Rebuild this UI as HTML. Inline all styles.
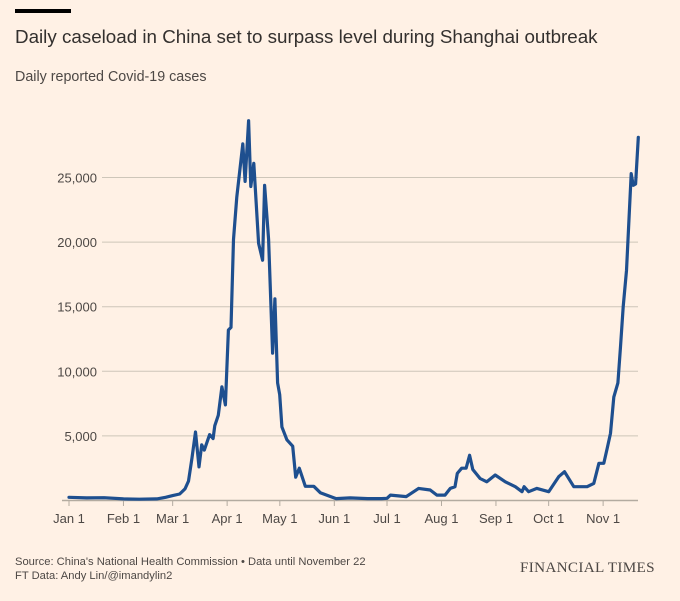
<!DOCTYPE html>
<html><head><meta charset="utf-8"><style>
html,body{margin:0;padding:0;background:#fff1e5;}
body{width:680px;height:601px;position:relative;overflow:hidden;font-family:"Liberation Sans",sans-serif;color:#33302e;}
.t{position:absolute;white-space:nowrap;}
</style></head><body>
<div style="position:absolute;left:15px;top:9px;width:56px;height:4px;background:#000;"></div>
<div class="t" style="left:15px;top:26px;font-size:18.8px;color:#33302e;">Daily caseload in China set to surpass level during Shanghai outbreak</div>
<div class="t" style="left:15px;top:69px;font-size:14.3px;color:#4d4845;">Daily reported Covid-19 cases</div>
<svg id="chart" width="680" height="601" style="position:absolute;left:0;top:0;"></svg>
<div class="t" style="left:15px;top:556px;font-size:11.2px;color:#4d4845;">Source: China's National Health Commission • Data until November 22</div>
<div class="t" style="left:15px;top:570px;font-size:11.2px;color:#4d4845;">FT Data: Andy Lin/@imandylin2</div>
<div class="t" style="left:520px;top:559px;font-size:15.2px;font-family:'Liberation Serif',serif;letter-spacing:0.3px;color:#4d4845;">FINANCIAL TIMES</div>
<script>
const yTicks=[5000,10000,15000,20000,25000];
const yTickLabels=["5,000","10,000","15,000","20,000","25,000"];
const xTickDays=[0,31,59,90,120,151,181,212,243,273,304];
const xTickLabels=["Jan 1","Feb 1","Mar 1","Apr 1","May 1","Jun 1","Jul 1","Aug 1","Sep 1","Oct 1","Nov 1"];
const days=[0,10,20,31,40,50,55,59,63,66,68,70,72,74,75.5,77,80,82,83,85,87,89,90.7,92.2,93.6,95.5,98.9,100.2,102.2,103.5,105.2,107.9,110.2,111.3,113.6,115.9,117.2,118.7,119.9,121.2,124,127.3,129,131.1,134.5,139.3,143,148,152,160,170,178,181,183,192,199,205.6,209.4,214,217,219.7,221,223.5,226,228,229.8,234,237.8,242.6,248.3,254,257.8,259,261.6,266.3,273,278.7,282,287.3,294.9,298.7,301.6,304.4,306.3,308.2,310.1,312.4,313.9,315.4,317.3,320,321.1,322.5,324];
const cases=[250,200,220,120,100,120,250,380,500,900,1500,3300,5300,2600,4300,3900,5100,4800,5800,6600,8800,7400,13200,13400,20200,23500,27600,24700,29400,24300,26100,19900,18600,24400,20200,11400,15600,9100,8200,5700,4700,4200,1800,2500,1100,1100,600,350,150,200,150,150,170,420,300,940,810,420,420,940,1070,2100,2500,2500,3500,2400,1700,1450,1970,1450,1070,680,1070,680,940,680,1840,2230,1070,1070,1320,2880,2880,4040,5200,8000,9100,11900,15000,17800,25300,24400,24500,28100];
const NS="http://www.w3.org/2000/svg";
const svg=document.getElementById('chart');
const x=d=>69+d*1.757;
const y=v=>500.5-v*64.6/5000;
function mk(tag,attrs){const e=document.createElementNS(NS,tag);for(const k in attrs)e.setAttribute(k,attrs[k]);svg.appendChild(e);return e;}
yTicks.forEach((v,i)=>{
  const g=mk('line',{x1:102,x2:638,y1:y(v),y2:y(v),stroke:'#cec6b9','stroke-width':1});
  
  
  const t=mk('text',{x:97,y:y(v)+5,'text-anchor':'end','font-size':13,fill:'#4d4845','font-family':'Liberation Sans, sans-serif'});
  t.textContent=yTickLabels[i];
  
  
});
const ax=mk('line',{x1:62,x2:638,y1:500.5,y2:500.5,stroke:'#b3aba0','stroke-width':1.5});


xTickDays.forEach((d,i)=>{
  const tk=mk('line',{x1:x(d),x2:x(d),y1:500.5,y2:506,stroke:'#b3aba0','stroke-width':1});
  
  
  const t=mk('text',{x:x(d),y:523,'text-anchor':'middle','font-size':13,fill:'#4d4845','font-family':'Liberation Sans, sans-serif'});
  t.textContent=xTickLabels[i];
  
  
});
const p=mk('path',{d:days.map((d,i)=>(i?'L':'M')+x(d).toFixed(1)+','+y(cases[i]).toFixed(1)).join(''),fill:'none',stroke:'#1e4f8f','stroke-width':3.2,'stroke-linejoin':'round','stroke-linecap':'round'});


</script>
</body></html>
